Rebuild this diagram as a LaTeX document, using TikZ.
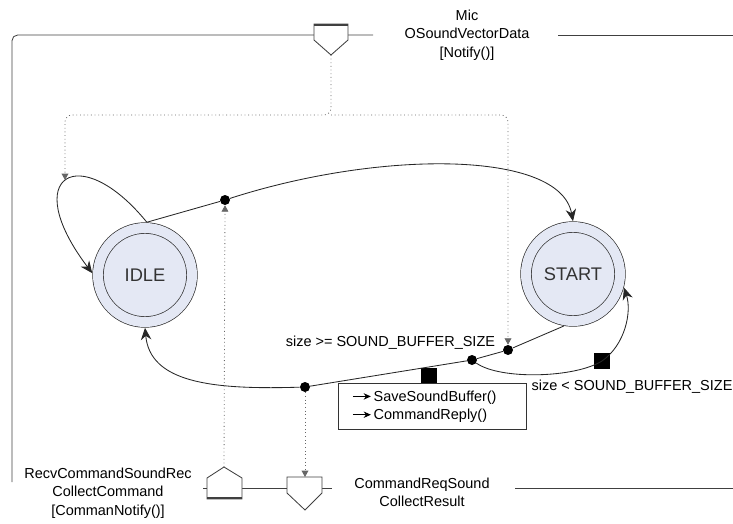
\documentclass[tikz,border=0pt]{standalone}
\usepackage{fontspec}
\setmainfont{Liberation Sans}
\usetikzlibrary{arrows.meta}

\definecolor{statefill}{RGB}{228,232,244}

\newcommand{\actarrow}{\tikz[baseline=-0.6ex]\draw[line width=0.6pt, -{Stealth[length=1.8mm,width=1.6mm]}] (0mm,0mm) -- (4.5mm,0mm);\,}

\tikzset{
  state/.style={circle, draw=black!80, line width=0.5pt, fill=statefill, double=statefill,
    double distance=2.5mm, minimum size=23.5mm, inner sep=0pt, outer sep=1.45mm,
    font=\fontsize{13}{15}\selectfont, text=black!80},
  trans/.style={draw=black!85, line width=0.6pt, -{Stealth[length=3mm,width=2.6mm]}},
  signal/.style={draw=black!60, dotted, line width=0.6pt, rounded corners=5pt,
    -{Triangle[length=1.6mm,width=1.7mm]}},
  junction/.style={circle, fill=black, inner sep=0pt, minimum size=2.5mm},
  actmark/.style={fill=black, inner sep=0pt, minimum size=4.2mm},
  frame/.style={draw=black!75, line width=0.6pt},
  port/.style={draw=black!75, fill=white, line width=0.6pt},
}

\begin{document}
\begin{tikzpicture}[x=0.25mm, y=-0.25mm, font=\fontsize{10.3}{13}\selectfont]
\useasboundingbox (0,0) rectangle (733,524);

% frame and ports
\draw[frame, rounded corners=4pt] (373,35) -- (12,35) -- (12,482);
\draw[frame] (558,35) -- (733,35);
\draw[frame] (203,488) -- (332,488);
\draw[frame] (515,488) -- (733,488);

\draw[port] (314,24) -- (348,24) -- (348,40) -- (331,55) -- (314,40) -- cycle;
\draw[line width=1.4pt, black!75] (314,25) -- (348,25);
\coordinate (micport) at (331,55);
\draw[port] (207,499) -- (207,478) -- (224,467) -- (242,478) -- (242,499) -- cycle;
\draw[line width=1.4pt, black!75] (207,498) -- (242,498);
\coordinate (recvport) at (224,467);
\draw[port] (287,477) -- (322,477) -- (322,493) -- (305,510) -- (287,493) -- cycle;
\coordinate (collport) at (305,477);

% port labels
\node[align=center] (micname) at (467,35) {Mic\\OSoundVectorData\\{[Notify()]}};
\node[align=center] (recvname) at (108,493) {RecvCommandSoundRec\\CollectCommand\\{[CommanNotify()]}};
\node[align=center] (collname) at (422,492) {CommandReqSound\\CollectResult};

% states
\node[state] (idle) at (145,275) {IDLE};
\node[state] (start) at (573,274) {START};

% junctions and action marks
\node[junction] (jtop) at (225,200) {};
\node[junction] (jsig) at (508,350) {};
\node[junction] (choice) at (472,360) {};
\node[junction] (jbot) at (305,387) {};
\node[actmark] (act1) at (429,376) {};
\node[actmark] (act2) at (602,361) {};
\coordinate (looptop) at (65,180);

% transitions
\draw[trans] (idle.88) .. controls (80,140) and (18,175) .. (idle.178);
\draw[trans] (idle.88) -- (jtop) .. controls (380,150) and (560,150) .. (start.north);
\draw[trans] (start.260) -- (jsig) -- (choice) -- (jbot) .. controls (210,390) and (150,382) .. (idle.south);
\draw[trans] (choice) .. controls (500,380) and (575,378) .. (act2.center) .. controls (625,345) and (632,312) .. (start.345);

% signals
\draw[signal] (micport) -- (331,115) -| (looptop);
\draw[signal] (331,115) -| (jsig.north);
\draw[signal] (recvport) -- (jtop.south);
\draw[signal] (jbot.south) -- (collport);

% guards and actions
\node[anchor=east] (gelabel) at (500,343) {size >= SOUND\_BUFFER\_SIZE};
\node[anchor=west, inner xsep=1pt] (ltlabel) at (530,387) {size < SOUND\_BUFFER\_SIZE};
\node[draw=black!80, line width=0.6pt, anchor=north west, align=left, text width=40mm,
  inner xsep=3.5mm, minimum height=11.5mm] (actions) at (338,383)
  {\actarrow SaveSoundBuffer()\\\actarrow CommandReply()};

\end{tikzpicture}
\end{document}
